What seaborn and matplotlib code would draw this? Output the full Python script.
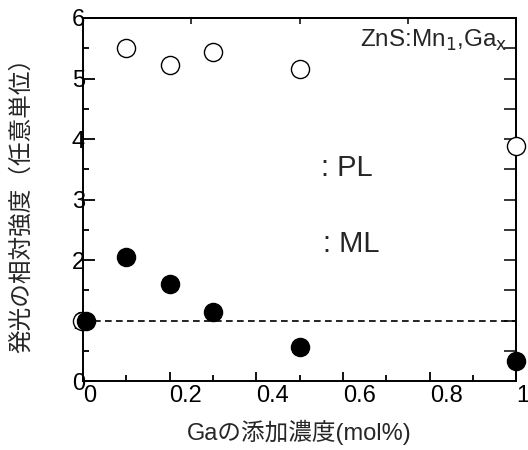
import matplotlib
matplotlib.use("Agg")
import matplotlib.pyplot as plt
from matplotlib.ticker import MultipleLocator
import seaborn as sns
import pandas as pd

sns.set_style("ticks")
plt.rcParams['font.family'] = ['Liberation Sans', 'Noto Sans CJK JP', 'DejaVu Sans']

pl_x = [-0.003, 0.1, 0.2, 0.3, 0.5, 1.0]
pl_y = [1.0, 5.5, 5.23, 5.43, 5.16, 3.88]
ml_x = [0.008, 0.1, 0.2, 0.3, 0.5, 1.0]
ml_y = [1.0, 2.05, 1.6, 1.14, 0.56, 0.33]
ref_level = 1.0
x_ticks = [0, 0.2, 0.4, 0.6, 0.8, 1.0]
x_ticklabels = ["0", "0.2", "0.4", "0.6", "0.8", "1"]
y_ticks = [0, 1, 2, 3, 4, 5, 6]
top_ticks = [0.25, 0.5, 0.75]
right_ticks = [0.5, 1, 1.5, 2, 2.5, 3, 3.5, 4, 4.5, 5, 5.5]

pl = pd.DataFrame({"x": pl_x, "y": pl_y})
ml = pd.DataFrame({"x": ml_x, "y": ml_y})

fig = plt.figure(figsize=(5.28, 4.5), dpi=100)
ax = fig.add_axes([0.157, 0.153, 0.821, 0.807])

ax.plot([0, 1], [ref_level, ref_level], ls=(0, (4, 2.6)), color="black", lw=1.2, zorder=1)
sns.scatterplot(data=pl, x="x", y="y", ax=ax, s=170, facecolor="white",
                edgecolor="black", linewidth=1.0, zorder=3, clip_on=False)
sns.scatterplot(data=ml, x="x", y="y", ax=ax, s=170, color="black",
                edgecolor="black", linewidth=1.0, zorder=4, clip_on=False)

ax.set_xlim(0, 1)
ax.set_ylim(0, 6)
ax.set_xticks(x_ticks)
ax.set_xticklabels(x_ticklabels, ha="left")
ax.set_yticks(y_ticks)
ax.xaxis.set_minor_locator(MultipleLocator(0.1))
ax.yaxis.set_minor_locator(MultipleLocator(0.5))
ax.tick_params(which="both", direction="in", top=False, right=False, width=1.3,
               colors="black", labelsize=17)
ax.tick_params(axis="x", which="major", length=6.5, pad=3)
ax.tick_params(axis="x", which="minor", length=4.3)
ax.tick_params(axis="y", which="major", length=8.6, pad=-1.5)
ax.tick_params(axis="y", which="minor", length=4.3)

ax_t = ax.secondary_xaxis("top")
ax_t.set_xticks(top_ticks)
ax_t.set_xticklabels([])
ax_t.tick_params(direction="in", length=4.3, width=1.3)
ax_t.spines["top"].set_linewidth(1.4)
ax_r = ax.secondary_yaxis("right")
ax_r.set_yticks(right_ticks)
ax_r.set_yticklabels([])
ax_r.tick_params(direction="in", length=8.6, width=1.3)
ax_r.spines["right"].set_linewidth(1.4)

for sp in ax.spines.values():
    sp.set_linewidth(1.4)
    sp.set_color("black")

ax.set_xlabel("Gaの添加濃度(mol%)", fontsize=17, labelpad=9)
ax.set_ylabel("発光の相対強度（任意単位）", fontsize=17, labelpad=28)

ax.text(0.979, 5.52, "ZnS:Mn$_1$,Ga$_\\mathrm{x}$", fontsize=17.5, ha="right", va="baseline")
ax.text(0.55, 3.52, ": PL", fontsize=21, ha="left", va="center")
ax.text(0.554, 2.26, ": ML", fontsize=21, ha="left", va="center")

fig.savefig("out.png", dpi=100)
